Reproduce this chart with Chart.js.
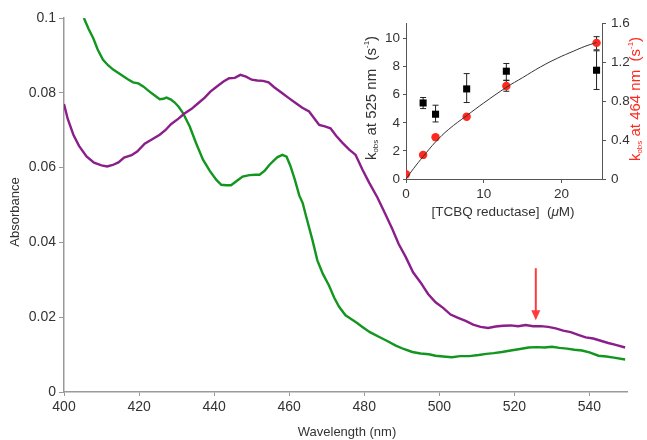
<!DOCTYPE html>
<html lang="en">
<head>
<meta charset="utf-8">
<title>Absorbance spectra</title>
<script src="https://cdn.jsdelivr.net/npm/chart.js@4"></script>
<style>
  html, body { margin: 0; padding: 0; background: #fff; }
  #wrap { position: relative; width: 647px; height: 440px; overflow: hidden; }
  #main { position: absolute; left: 0; top: 0; }
  #inset { position: absolute; left: 340px; top: 0; }
</style>
</head>
<body>
<div id="wrap">
  <canvas id="main" width="647" height="440"></canvas>
  <canvas id="inset" width="307" height="225"></canvas>
</div>
<script>
// ---- main spectra ----
var purpleNm = [400, 401, 402.5, 404, 406, 408, 410, 411.5, 413, 414.5, 416, 418, 419.5, 421.5, 423.5, 425.5, 427, 428.5, 430.5, 432,
  434, 435.5, 437.5, 439, 441, 442.5, 444, 445.5, 447, 448.5, 450, 451.5, 453, 454.5, 456, 458, 460, 461.8, 463.5, 465.3,
  466.8, 468, 469.5, 471, 472.5, 474.2, 476, 477.7, 479.5, 481.3, 483.5, 485.7, 487.5, 489.2, 491, 493, 495, 497, 499, 501,
  503, 505, 507, 509, 511, 513, 515, 517, 519, 521, 523, 525, 527, 529, 531, 533, 535, 537, 539, 541, 543, 545, 547, 549.5];
var purpleAbs = [0.0770, 0.0730, 0.0688, 0.0658, 0.0630, 0.0613, 0.0606, 0.0603, 0.0607, 0.0614, 0.0627, 0.0633, 0.0643, 0.0664, 0.0676, 0.0688, 0.0700, 0.0716, 0.0731, 0.0744,
  0.0757, 0.0770, 0.0787, 0.0803, 0.0819, 0.0830, 0.0839, 0.0840, 0.0848, 0.0843, 0.0835, 0.0833, 0.0832, 0.0828, 0.0815, 0.0800, 0.0785, 0.0772, 0.0760, 0.0750,
  0.0730, 0.0714, 0.0710, 0.0705, 0.0685, 0.0666, 0.0648, 0.0634, 0.0595, 0.0560, 0.0520, 0.0474, 0.0435, 0.0395, 0.0362, 0.0320, 0.0293, 0.0262, 0.0240, 0.0225,
  0.0207, 0.0198, 0.0190, 0.0180, 0.0174, 0.0171, 0.0175, 0.0177, 0.0178, 0.0176, 0.0179, 0.0176, 0.0176, 0.0174, 0.0170, 0.0164, 0.0160, 0.0153, 0.0146, 0.0143, 0.0137, 0.0131, 0.0126, 0.0119];

var greenNm = [405.3, 406.5, 407.8, 409, 410.4, 411.8, 413.1, 414.5, 415.8, 417, 418.4, 419.8, 421.1, 422.8, 424, 425.5, 426.5, 427.3, 428.5, 429.5,
  430.6, 431.7, 433.5, 435.2, 437, 438.8, 440.6, 441.9, 443.2, 444.5, 446, 447.6, 449.4, 451, 452.1, 453.5, 454.7, 456, 456.9, 458.2,
  459.3, 460.3, 461.5, 462.7, 463.6, 464.5, 466.2, 467.5, 469, 470.6, 472, 473.3, 475, 476.5, 478, 479.5, 481.5, 484, 486, 488.4,
  490.5, 492.8, 495, 497.2, 499, 501, 503.4, 505.5, 508, 510.5, 512.5, 514.5, 516.7, 519, 521.5, 523.8, 526, 528, 530, 532,
  534, 536, 538, 540, 542.4, 544.5, 546.5, 549.5];
var greenAbs = [0.1000, 0.0972, 0.0946, 0.0915, 0.0888, 0.0873, 0.0862, 0.0853, 0.0844, 0.0836, 0.0828, 0.0825, 0.0817, 0.0803, 0.0794, 0.0783, 0.0784, 0.0787, 0.0782, 0.0774,
  0.0762, 0.0746, 0.0710, 0.0665, 0.0622, 0.0592, 0.0567, 0.0554, 0.0553, 0.0553, 0.0564, 0.0576, 0.0580, 0.0581, 0.0581, 0.0592, 0.0607, 0.0620, 0.0628, 0.0634,
  0.0629, 0.0605, 0.0568, 0.0525, 0.0505, 0.0470, 0.0406, 0.0352, 0.0315, 0.0285, 0.0252, 0.0228, 0.0205, 0.0195, 0.0185, 0.0174, 0.0160, 0.0147, 0.0137, 0.0124,
  0.0115, 0.0107, 0.0103, 0.0101, 0.0097, 0.0095, 0.0093, 0.0096, 0.0096, 0.0099, 0.0102, 0.0104, 0.0107, 0.0111, 0.0115, 0.0119, 0.0120, 0.0119, 0.0121, 0.0118,
  0.0116, 0.0113, 0.0111, 0.0106, 0.0097, 0.0095, 0.0092, 0.0087];

var xTicks = [400, 420, 440, 460, 480, 500, 520, 540];
var yTicks = [0, 0.02, 0.04, 0.06, 0.08, 0.1];

// red arrow marking 525 nm
var arrowNm = 525.7;
var arrowFrom = 0.0331;
var arrowTo = 0.0192;

// ---- inset: kobs vs [TCBQ reductase] ----
var insetXTicks = [0, 10, 20];
var leftTicks = [0, 2, 4, 6, 8, 10];
var rightTicks = [0, 0.4, 0.8, 1.2, 1.6];

var conc525 = [2.2, 3.8, 7.8, 12.9, 24.5];
var kobs525 = [5.41, 4.61, 6.41, 7.67, 7.74];
var err525Low = [5.01, 4.06, 5.44, 7.03, 6.37];
var err525High = [5.80, 5.25, 7.50, 8.22, 9.12];

var conc464 = [0, 2.2, 3.8, 7.8, 12.9, 24.5];
var kobs464 = [0.048, 0.247, 0.429, 0.638, 0.954, 1.396];
var err464Low = [null, null, null, null, 0.90, 1.325];
var err464High = [null, null, null, null, 1.01, 1.46];

var fitConc = [0, 1, 2.2, 3.8, 5.5, 7.8, 10, 12.9, 15, 17.3, 19.5, 21.5, 23, 24.5];
var fitK = [0, 0.11, 0.23, 0.38, 0.51, 0.65, 0.78, 0.94, 1.04, 1.15, 1.24, 1.31, 1.36, 1.40];

var FONT = "'Liberation Sans', Arial, Helvetica, sans-serif";

function pts(xs, ys) {
    return xs.map(function (x, i) { return { x: x, y: ys[i] }; });
}

// draws a row of text pieces (sub/superscript, italic) centred on (x, y)
function drawRuns(ctx, runs, x, y, rotate, color) {
    ctx.save();
    ctx.translate(x, y);
    if (rotate) ctx.rotate(-Math.PI / 2);
    ctx.textBaseline = 'middle';
    var total = 0;
    runs.forEach(function (r) {
        ctx.font = (r.italic ? 'italic ' : '') + r.size + 'px ' + FONT;
        total += ctx.measureText(r.t).width;
    });
    var cx = -total / 2;
    runs.forEach(function (r) {
        ctx.font = (r.italic ? 'italic ' : '') + r.size + 'px ' + FONT;
        ctx.fillStyle = r.color || color;
        ctx.fillText(r.t, cx, r.dy || 0);
        cx += ctx.measureText(r.t).width;
    });
    ctx.restore();
}

var mainText = {
    id: 'mainText',
    afterDraw: function (chart) {
        var ctx = chart.ctx;
        drawRuns(ctx, [{ t: 'Absorbance', size: 13 }], 15, 212, true, '#333');
        drawRuns(ctx, [{ t: 'Wavelength (nm)', size: 13 }], 347, 432, false, '#333');

        var x = chart.scales.x.getPixelForValue(arrowNm);
        var y0 = chart.scales.y.getPixelForValue(arrowFrom);
        var y1 = chart.scales.y.getPixelForValue(arrowTo);
        ctx.save();
        ctx.strokeStyle = '#ff3b3b';
        ctx.fillStyle = '#ff3b3b';
        ctx.lineWidth = 2;
        ctx.beginPath();
        ctx.moveTo(x, y0);
        ctx.lineTo(x, y1 - 8);
        ctx.stroke();
        ctx.beginPath();
        ctx.moveTo(x - 4.5, y1 - 10);
        ctx.lineTo(x + 4.5, y1 - 10);
        ctx.lineTo(x, y1);
        ctx.closePath();
        ctx.fill();
        ctx.restore();
    }
};

var tickFont = { family: FONT, size: 14 };

new Chart(document.getElementById('main'), {
    type: 'scatter',
    data: {
        datasets: [{
            data: pts(purpleNm, purpleAbs),
            showLine: true,
            borderColor: '#8b1e8a',
            borderWidth: 2.4,
            pointRadius: 0,
            tension: 0
        }, {
            data: pts(greenNm, greenAbs),
            showLine: true,
            borderColor: '#13961f',
            borderWidth: 2.4,
            pointRadius: 0,
            tension: 0
        }]
    },
    options: {
        responsive: false,
        animation: false,
        layout: { padding: { top: 18, right: 20, left: 0, bottom: 0 } },
        plugins: { legend: { display: false }, tooltip: { enabled: false } },
        scales: {
            x: {
                type: 'linear', min: 400, max: 550,
                afterBuildTicks: function (s) { s.ticks = xTicks.map(function (v) { return { value: v }; }); },
                afterFit: function (s) { s.height = 48; },
                grid: { drawOnChartArea: false, tickLength: 4, color: '#999' },
                border: { color: '#999', width: 1.5 },
                ticks: { font: tickFont, color: '#333', padding: 3, maxRotation: 0, callback: function (v) { return String(v); } }
            },
            y: {
                min: 0, max: 0.1,
                afterBuildTicks: function (s) { s.ticks = yTicks.map(function (v) { return { value: v }; }); },
                afterFit: function (s) { s.width = 64; },
                grid: { drawOnChartArea: false, tickLength: 5, color: '#999' },
                border: { color: '#999', width: 1.5 },
                ticks: { font: tickFont, color: '#333', padding: 3, callback: function (v) { return String(v); } }
            }
        }
    },
    plugins: [mainText]
});

var insetExtras = {
    id: 'insetExtras',
    beforeDatasetsDraw: function (chart) {
        var ctx = chart.ctx;
        var sx = chart.scales.x;
        function bars(xs, lo, hi, scale) {
            ctx.save();
            ctx.strokeStyle = '#222';
            ctx.lineWidth = 1;
            xs.forEach(function (c, i) {
                if (lo[i] == null) return;
                var px = sx.getPixelForValue(c);
                var a = scale.getPixelForValue(lo[i]);
                var b = scale.getPixelForValue(hi[i]);
                ctx.beginPath();
                ctx.moveTo(px, a); ctx.lineTo(px, b);
                ctx.moveTo(px - 3, a); ctx.lineTo(px + 3, a);
                ctx.moveTo(px - 3, b); ctx.lineTo(px + 3, b);
                ctx.stroke();
            });
            ctx.restore();
        }
        bars(conc525, err525Low, err525High, chart.scales.yL);
        bars(conc464, err464Low, err464High, chart.scales.yR);
    },
    afterDraw: function (chart) {
        var ctx = chart.ctx;
        drawRuns(ctx, [
            { t: 'k', size: 15 }, { t: 'obs', size: 8, dy: 4 },
            { t: ' at 525 nm  (s', size: 15 }, { t: '-1', size: 8, dy: -5 }, { t: ')', size: 15 }
        ], 32, 98, true, '#333');
        drawRuns(ctx, [
            { t: 'k', size: 15 }, { t: 'obs', size: 8, dy: 4 },
            { t: ' at 464 nm  (s', size: 15 }, { t: '-1', size: 8, dy: -5 }, { t: ')', size: 15 }
        ], 296, 99, true, '#ff2a1f');
        drawRuns(ctx, [
            { t: '[TCBQ reductase]  (', size: 13.5 }, { t: '\u03bc', size: 13.5, italic: true }, { t: 'M)', size: 13.5 }
        ], 163, 212, false, '#333');
    }
};

var insetTickFont = { family: FONT, size: 13.5 };

new Chart(document.getElementById('inset'), {
    type: 'scatter',
    data: {
        datasets: [{
            data: pts(fitConc, fitK),
            yAxisID: 'yR',
            showLine: true,
            borderColor: '#333',
            borderWidth: 1,
            pointRadius: 0,
            tension: 0.4
        }, {
            data: pts(conc525, kobs525),
            yAxisID: 'yL',
            pointStyle: 'rect',
            pointRadius: 5,
            backgroundColor: '#000',
            borderColor: '#000',
            borderWidth: 0
        }, {
            data: pts(conc464, kobs464),
            yAxisID: 'yR',
            pointStyle: 'circle',
            pointRadius: 4.2,
            backgroundColor: '#ff2a1f',
            borderColor: '#ff2a1f',
            borderWidth: 0
        }]
    },
    options: {
        responsive: false,
        animation: false,
        layout: { padding: { top: 23, right: 0, left: 0, bottom: 0 } },
        plugins: { legend: { display: false }, tooltip: { enabled: false } },
        scales: {
            x: {
                type: 'linear', min: 0, max: 25.2,
                afterBuildTicks: function (s) { s.ticks = insetXTicks.map(function (v) { return { value: v }; }); },
                afterFit: function (s) { s.height = 46; },
                grid: { drawOnChartArea: false, tickLength: 4, color: '#555' },
                border: { color: '#555', width: 1 },
                ticks: { font: insetTickFont, color: '#333', padding: 3, maxRotation: 0, callback: function (v) { return String(v); } }
            },
            yL: {
                position: 'left', min: 0, max: 11.1,
                afterBuildTicks: function (s) { s.ticks = leftTicks.map(function (v) { return { value: v }; }); },
                afterFit: function (s) { s.width = 66; },
                grid: { drawOnChartArea: false, tickLength: 3, color: '#555' },
                border: { color: '#555', width: 1 },
                ticks: { font: insetTickFont, color: '#333', padding: 3, callback: function (v) { return String(v); } }
            },
            yR: {
                position: 'right', min: 0, max: 1.6,
                afterBuildTicks: function (s) { s.ticks = rightTicks.map(function (v) { return { value: v }; }); },
                afterFit: function (s) { s.width = 45; },
                grid: { drawOnChartArea: false, tickLength: 4, color: '#555' },
                border: { color: '#555', width: 1 },
                ticks: { font: insetTickFont, color: '#333', padding: 5, callback: function (v) { return String(v); } }
            }
        }
    },
    plugins: [insetExtras]
});
</script>
</body>
</html>
